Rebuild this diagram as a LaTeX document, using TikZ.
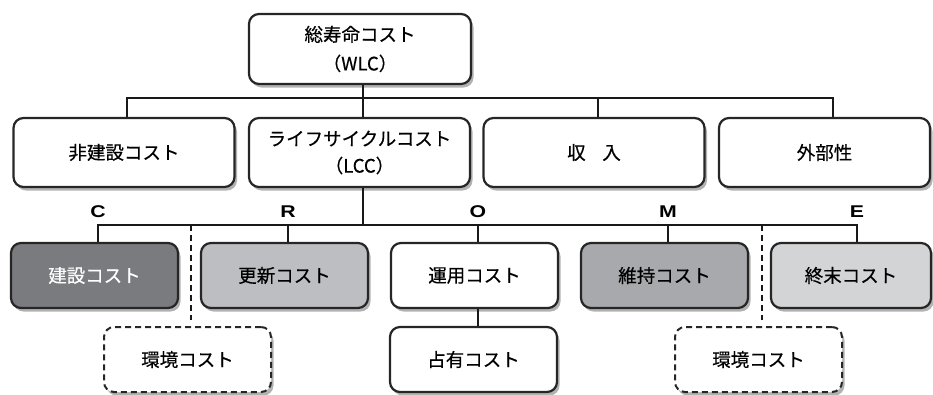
\documentclass[tikz,border=0pt]{standalone}
\usepackage{fontspec}
\usepackage{graphicx}
\setmainfont{Noto Sans CJK JP}[FakeBold=0.4]
\newfontfamily\latinbold{Liberation Sans}
\usetikzlibrary{shadows}
\definecolor{cDark}{HTML}{7A7B7F}
\definecolor{cMid}{HTML}{A8A9AC}
\definecolor{cLight}{HTML}{BDBEC1}
\definecolor{cPale}{HTML}{D3D4D6}
\newcommand{\widelab}[1]{\scalebox{1.25}[1]{#1}}
\tikzset{
  box/.style={draw=black!85, line width=2.2pt, rounded corners=10pt, fill=white,
    align=center, font=\fontsize{18.5}{27}\selectfont, inner sep=0pt,
    drop shadow={shadow xshift=2.5pt, shadow yshift=-3.5pt, fill=black, opacity=0.3}},
  big/.style={box, minimum width=221pt, minimum height=69pt},
  small/.style={box, minimum width=167pt, minimum height=65pt},
  dbox/.style={small, dash pattern=on 6pt off 4pt, line width=2pt},
  thick1/.style={line width=2.8pt, black!90},
  thick2/.style={line width=2pt, black!90},
  dline/.style={line width=1.6pt, black!90, dash pattern=on 6pt off 4pt},
  lab/.style={font=\latinbold\bfseries\fontsize{17}{17}\selectfont, inner sep=0pt}
}
\begin{document}
\begin{tikzpicture}[x=1pt, y=-1pt]
\useasboundingbox (0,0) rectangle (933,394);
% level 1
\node[big, minimum width=222pt, minimum height=70pt, font=\fontsize{18.5}{29}\selectfont] (wlc) at (360,49) {総寿命コスト\\（WLC）};
% level 2
\node[big] (nonc) at (124,152.5) {非建設コスト};
\node[big] (lcc) at (359.5,152.5) {ライフサイクルコスト\\（LCC）};
\node[big] (inc) at (594,152.5) {収\hspace{0.9em}入};
\node[big, minimum width=211pt] (ext) at (824.5,152.5) {外部性};
% level 3
\node[small, fill=cDark, text=white] (con) at (94.5,275.5) {建設コスト};
\node[small, fill=cLight] (ren) at (284.5,275.5) {更新コスト};
\node[small] (ope) at (474.5,275.5) {運用コスト};
\node[small, fill=cMid] (mai) at (664.5,275.5) {維持コスト};
\node[small, fill=cPale, minimum width=160pt] (end) at (851,275.5) {終末コスト};
% level 4
\node[dbox] (env1) at (187.5,359.5) {環境コスト};
\node[small] (occ) at (473.5,359.5) {占有コスト};
\node[dbox] (env2) at (758.5,359.5) {環境コスト};
% labels
\node[lab] (lC) at (98,212) {\widelab{C}};
\node[lab] (lR) at (288,212) {\widelab{R}};
\node[lab] (lO) at (478,212) {\widelab{O}};
\node[lab] (lM) at (668,212) {\widelab{M}};
\node[lab] (lE) at (857,212) {\widelab{E}};
% level 1 connectors
\coordinate (b1) at (363,98);
\coordinate (b1l) at (127,98);
\coordinate (b1r) at (833,98);
\coordinate (b1m) at (598,98);
\draw[thick1] (wlc.south -| b1) -- (b1);
\draw[thick1] (b1l |- nonc.north) -- (b1l) -- (b1r) -- (b1r |- ext.north);
\draw[thick1] (b1 |- lcc.north) -- (b1);
\draw[thick1] (b1m) -- (b1m |- inc.north);
% level 2 connectors
\coordinate (b2) at (363,225);
\coordinate (b2l) at (98,225);
\coordinate (b2r) at (857,225);
\draw[thick2] (lcc.south -| b2) -- (b2);
\draw[thick2] (b2l |- con.north) -- (b2l) -- (b2r) -- (b2r |- end.north);
\coordinate (cR) at (288,225);
\coordinate (cO) at (478,225);
\coordinate (cM) at (668,225);
\draw[thick2] (cR) -- (cR |- ren.north);
\draw[thick2] (cO) -- (cO |- ope.north);
\draw[thick2] (cM) -- (cM |- mai.north);
\draw[thick2] (ope.south -| cO) -- (occ.north -| cO);
% dashed
\coordinate (d1) at (191,225);
\coordinate (d1e) at (191,320);
\coordinate (d2) at (762,225);
\coordinate (d2e) at (762,320);
\draw[dline] (d1) -- (d1e);
\draw[dline] (d2) -- (d2e);
\end{tikzpicture}
\end{document}
